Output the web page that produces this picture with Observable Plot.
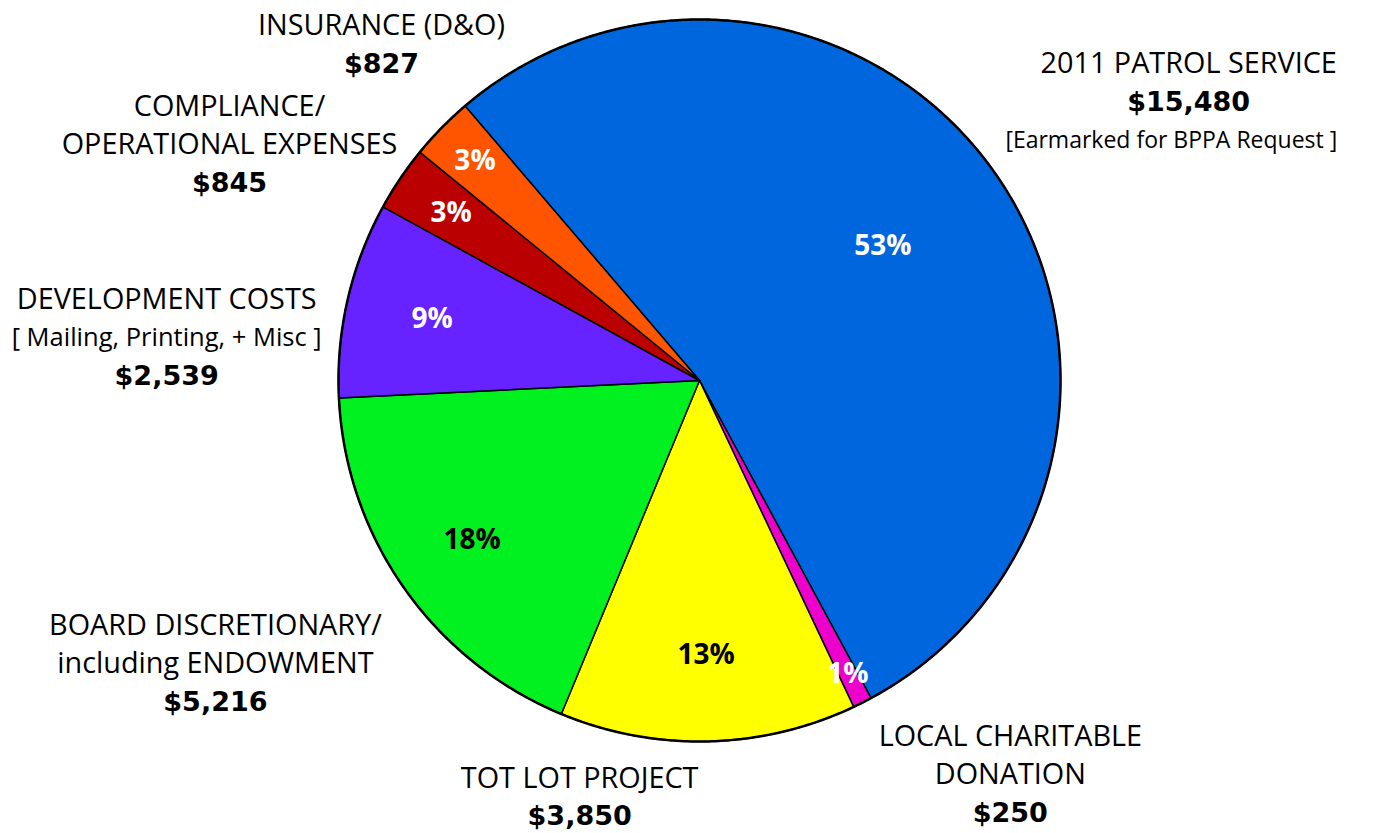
<!DOCTYPE html>
<html>
<head>
<meta charset="utf-8">
<script src="https://cdn.jsdelivr.net/npm/d3@7"></script>
<script src="https://cdn.jsdelivr.net/npm/@observablehq/plot@0.6"></script>
<style>
  html, body { margin: 0; padding: 0; background: #ffffff; }
  #chart svg { display: block; background: #ffffff; }
</style>
</head>
<body>
<div id="chart"></div>
<script>
// ---------------- DATA ----------------
const categories = [
  "2011 PATROL SERVICE",
  "LOCAL CHARITABLE DONATION",
  "TOT LOT PROJECT",
  "BOARD DISCRETIONARY/ including ENDOWMENT",
  "DEVELOPMENT COSTS",
  "COMPLIANCE/ OPERATIONAL EXPENSES",
  "INSURANCE (D&O)"
];
const values = [15480, 250, 3850, 5216, 2539, 845, 827];
const colors = ["#0066DD", "#EE00CC", "#FFFF00", "#00F020", "#6622FF", "#BB0000", "#FF5500"];
// label lines per slice; "{amount}" is replaced by the formatted value
const labelLines = [
  [["2011 PATROL SERVICE", "name"], ["{amount}", "amount"], ["[Earmarked for BPPA Request ]", "note"]],
  [["LOCAL CHARITABLE", "name"], ["DONATION", "name"], ["{amount}", "amount"]],
  [["TOT LOT PROJECT", "name"], ["{amount}", "amount"]],
  [["BOARD DISCRETIONARY/", "name"], ["including ENDOWMENT", "name"], ["{amount}", "amount"]],
  [["DEVELOPMENT COSTS", "name"], ["[ Mailing, Printing, + Misc ]", "note"], ["{amount}", "amount"]],
  [["COMPLIANCE/", "name"], ["OPERATIONAL EXPENSES", "name"], ["{amount}", "amount"]],
  [["INSURANCE (D&O)", "name"], ["{amount}", "amount"]]
];
const pctTextColors = ["white", "white", "black", "black", "white", "white", "white"];

// ---------------- LAYOUT (pie units: radius = 1) ----------------
const W = 1378, H = 833;
const cx = 699, cy = 380, R = 361;
const startDeg = -40.5;
const pctRadius = [0.63, 0.91, 0.76, 0.77, 0.76, 0.83, 0.87];
const pctAngleShift = [-1.8, 0, 0, 0, 0, 0, 0];   // degrees
const labelAnchor = [   // centre x, first-line y, in pie units
  [1.355, 0.878], [0.861, -0.986], [-0.332, -1.102], [-1.341, -0.679],
  [-1.476, 0.224], [-1.302, 0.759], [-0.881, 0.983]
];
const noteShiftX = [-0.048, 0, 0, 0, 0, 0, 0];
const noteSize = [23, 0, 0, 0, 25.5, 0, 0];
const lineStep = 38.5 / R;

// ---------------- BUILD ----------------
const total = d3.sum(values);
const fmtMoney = v => "$" + d3.format(",")(v);
const pie = d3.pie().sort(null)
  .startAngle(startDeg * Math.PI / 180)
  .endAngle(startDeg * Math.PI / 180 + 2 * Math.PI);
const arcs = pie(values);

const polys = [];
arcs.forEach((a, i) => {
  const n = Math.max(2, Math.ceil((a.endAngle - a.startAngle) / (Math.PI / 360)));
  polys.push({key: i, x: 0, y: 0, color: colors[i]});
  for (let k = 0; k <= n; k++) {
    const t = a.startAngle + (a.endAngle - a.startAngle) * k / n;
    polys.push({key: i, x: Math.sin(t), y: Math.cos(t), color: colors[i]});
  }
  polys.push({key: i, x: 0, y: 0, color: colors[i]});
});
const rim = d3.range(0, 721).map(k => {
  const t = k * Math.PI / 360;
  return {x: Math.sin(t), y: Math.cos(t)};
});

const pcts = arcs.map((a, i) => {
  const m = (a.startAngle + a.endAngle) / 2 + pctAngleShift[i] * Math.PI / 180;
  return {
    x: Math.sin(m) * pctRadius[i],
    y: Math.cos(m) * pctRadius[i],
    text: Math.round(values[i] / total * 100) + "%",
    fill: pctTextColors[i]
  };
});

const rows = [];
labelLines.forEach((lines, i) => {
  lines.forEach(([t, kind], j) => {
    rows.push({
      x: labelAnchor[i][0] + (kind === "note" ? noteShiftX[i] : 0),
      y: labelAnchor[i][1] - j * lineStep,
      text: t === "{amount}" ? fmtMoney(values[i]) : t,
      size: kind === "note" ? noteSize[i] : 0,
      kind
    });
  });
});

const chart = Plot.plot({
  width: W,
  height: H,
  margin: 0,
  x: {domain: [-1, 1], range: [cx - R, cx + R], axis: null},
  y: {domain: [-1, 1], range: [cy + R, cy - R], axis: null},
  color: {type: "identity"},
  marks: [
    Plot.line(polys, {x: "x", y: "y", z: "key", fill: "color", stroke: "black", strokeWidth: 1.5, strokeLinejoin: "round"}),
    Plot.line(rim, {x: "x", y: "y", stroke: "black", strokeWidth: 2.5}),
    Plot.text(pcts, {x: "x", y: "y", text: "text", fill: "fill", fontSize: 28, fontWeight: "bold", fontFamily: "'Open Sans', sans-serif"}),
    Plot.text(rows.filter(d => d.kind === "name"), {x: "x", y: "y", text: "text", fill: "black", fontSize: 28.8, fontFamily: "'Open Sans', sans-serif", lineAnchor: "middle"}),
    Plot.text(rows.filter(d => d.kind === "note"), {x: "x", y: "y", text: "text", fill: "black", fontSize: "size", fontFamily: "'Open Sans', sans-serif", lineAnchor: "middle"}),
    Plot.text(rows.filter(d => d.kind === "amount"), {x: "x", y: "y", text: "text", fill: "black", fontSize: 27, fontWeight: "bold", fontFamily: "'DejaVu Sans', sans-serif", lineAnchor: "middle"})
  ]
});
document.getElementById("chart").appendChild(chart);
</script>
</body>
</html>
